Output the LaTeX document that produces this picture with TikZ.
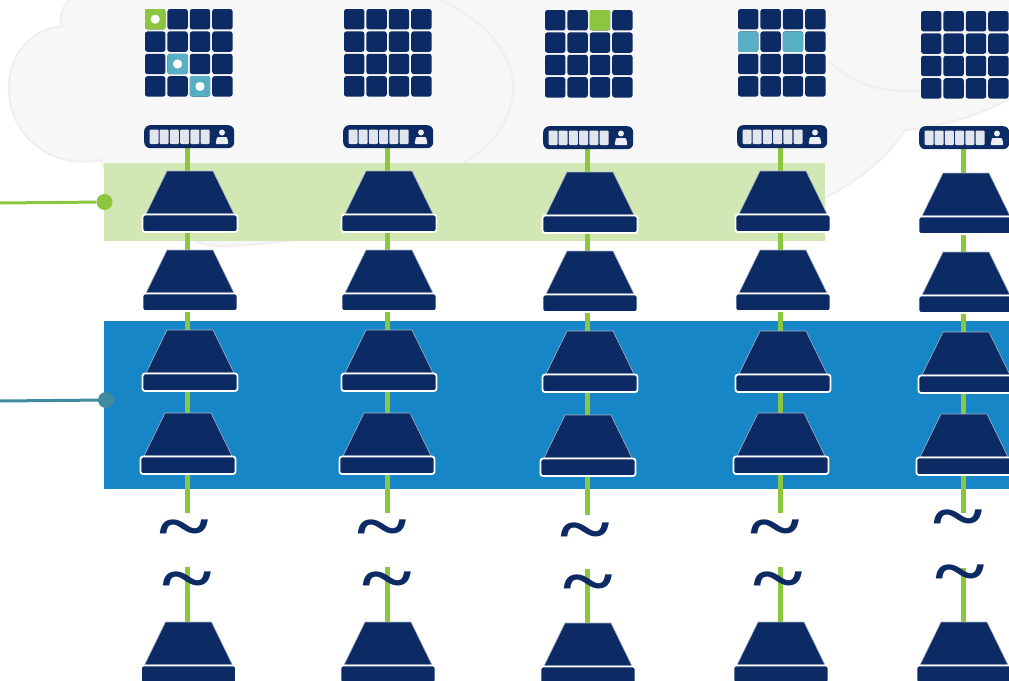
\documentclass[tikz,border=0pt]{standalone}
\usepackage{graphicx}
\usepackage{fontspec}
\setmainfont{Liberation Serif}
\definecolor{navy}{HTML}{0C2A63}
\definecolor{lime}{HTML}{8CC63F}
\definecolor{teal}{HTML}{58AEC2}
\definecolor{bandg}{HTML}{D2E8B4}
\definecolor{bandb}{HTML}{1686C6}
\definecolor{cloudf}{HTML}{F7F7F7}
\definecolor{cloude}{HTML}{EFEFEF}
\definecolor{tealdot}{HTML}{3F8A9E}
\tikzset{
  x=1pt,y=-1pt,
  cell/.style={fill=navy,rounded corners=2.5pt},
  link/.style={draw=lime,line width=5pt},
  tildemark/.style={text=navy,font=\fontsize{88}{88}\selectfont\bfseries,inner sep=0pt}
}
\newcommand{\tildeglyph}{\scalebox{1.08}[.85]{\char`\~}}
\newcommand{\gridicon}[2]{%
  \foreach \r in {0,1,2,3}{\foreach \c in {0,1,2,3}{
    \fill[cell] ({#1+\c*22.4},{#2+\r*22.4}) rectangle ++(20.4,20.4);}}}
\newcommand{\hl}[5]{% x y col row colour
  \fill[#5,rounded corners=2.5pt] ({#1+#3*22.4},{#2+#4*22.4}) rectangle ++(20.4,20.4);}
\newcommand{\hld}[5]{%
  \hl{#1}{#2}{#3}{#4}{#5}
  \fill[white] ({#1+#3*22.4+10.2},{#2+#4*22.4+10.2}) circle (4.6pt);}
\newcommand{\serverbox}[3]{% name x y
  \node[fill=navy,rounded corners=6pt,minimum width=90pt,minimum height=23pt,inner sep=0pt,anchor=north west] (#1) at (#2,#3) {};
  \foreach \i in {0,...,5}{
    \fill[white!88!navy,rounded corners=1pt] ({#2+5.5+\i*10.2},{#3+4.5}) rectangle ++(9,14.5);}
  \fill[white!92!navy] ({#2+78},{#3+7.5}) circle (3pt);
  \fill[white!92!navy,rounded corners=1pt] ({#2+73},{#3+12}) -- ({#2+83},{#3+12}) -- ({#2+84.5},{#3+19}) -- ({#2+71.5},{#3+19}) -- cycle;}
\newcommand{\device}[3]{% name cx top
  \coordinate (#1) at (#2,#3+30);
  \fill[navy,draw=white!65!navy,line width=.6pt] ({#2-23},#3) -- ({#2+23},#3) -- ({#2+44},{#3+43}) -- ({#2-44},{#3+43}) -- cycle;
  \fill[navy,rounded corners=2.5pt,draw=white,line width=1.8pt] ({#2-47.5},{#3+43.5}) rectangle ({#2+47.5},{#3+61});}
\begin{document}
\begin{tikzpicture}
\useasboundingbox (0,0) rectangle (1009,680);
\clip (0,0) rectangle (1009,680);
% cloud
\path[fill=cloudf,draw=cloude,line width=2pt]
  (72,-5) .. controls (62,8) and (58,18) .. (62,26)
  .. controls (25,30) and (6,62) .. (9,95)
  .. controls (12,135) and (50,170) .. (100,160)
  .. controls (125,215) and (190,250) .. (232,246)
  .. controls (330,240) and (440,215) .. (490,180)
  .. controls (560,215) and (640,240) .. (740,225)
  .. controls (790,220) and (870,185) .. (905,130)
  .. controls (960,125) and (1000,105) .. (1015,95)
  -- (1015,-5) -- cycle;
\draw[cloude,line width=2pt] (829,60) .. controls (850,85) and (890,95) .. (925,90);
\draw[cloude,line width=2pt] (433,-3) .. controls (490,20) and (515,60) .. (513,90)
  .. controls (512,120) and (490,150) .. (463,162);
% bands
\fill[bandg] (104,163) rectangle (825,241);
\fill[bandb] (104,321) rectangle (1009,489);
% callouts
\coordinate (cg) at (0,203);
\coordinate (cb) at (0,401);
\node[circle,fill=lime,minimum size=16pt,inner sep=0pt] (dg) at (104.5,202) {};
\node[circle,fill=tealdot,minimum size=16pt,inner sep=0pt] (db) at (106,400) {};
\draw[lime,line width=3pt] (cg) -- (dg);
\draw[tealdot,line width=3pt] (cb) -- (db);
% columns
\foreach \n/\lx/\gx/\gy/\sx/\sy/\ax/\ay/\bx/\by/\cx/\cy/\dx/\dy/\ex/\ey/\ta/\tb/\tc/\td/\te/\tf in {
 a/187.5/145/9/144/125/190/171/190/250/190/330/188/413/188.5/622/184/527/187/579/513/567,
 b/387/344/9/343/125/389/171/389/250/389/330/387/413/388/622/382/527/387/579/513/567,
 c/587/545/10/543/126/590/172/590/251/590/331/588/415/588/623/585/530/588/582/515/569,
 d/780/738/9/737/125/783/171/783/250/783/331/781/413/781/622/775/527/778/579/513/567,
 e/963/921/11/919/126/966/173/966/252/966/332/964/414/964/622/958/517/960/572/513/568}{
  \draw[link] (\lx,\sy+20) -- (\lx,\te);
  \draw[link] (\lx,\tf) -- (\lx,\ey+5);
  \gridicon{\gx}{\gy}
  \serverbox{srv\n}{\sx}{\sy}
  \device{sa\n}{\ax}{\ay}
  \device{sb\n}{\bx}{\by}
  \device{sc\n}{\cx}{\cy}
  \device{sd\n}{\dx}{\dy}
  \device{se\n}{\ex}{\ey}
  \node[tildemark] (ta\n) at (\ta,\tb+9) {\tildeglyph};
  \node[tildemark] (tb\n) at (\tc,\td+9) {\tildeglyph};
}
% highlights
\hld{145}{9}{0}{0}{lime}
\hld{145}{9}{1}{2}{teal}
\hld{145}{9}{2}{3}{teal}
\hl{545}{10}{2}{0}{lime}
\hl{738}{9}{0}{1}{teal}
\hl{738}{9}{2}{1}{teal}
\end{tikzpicture}
\end{document}
